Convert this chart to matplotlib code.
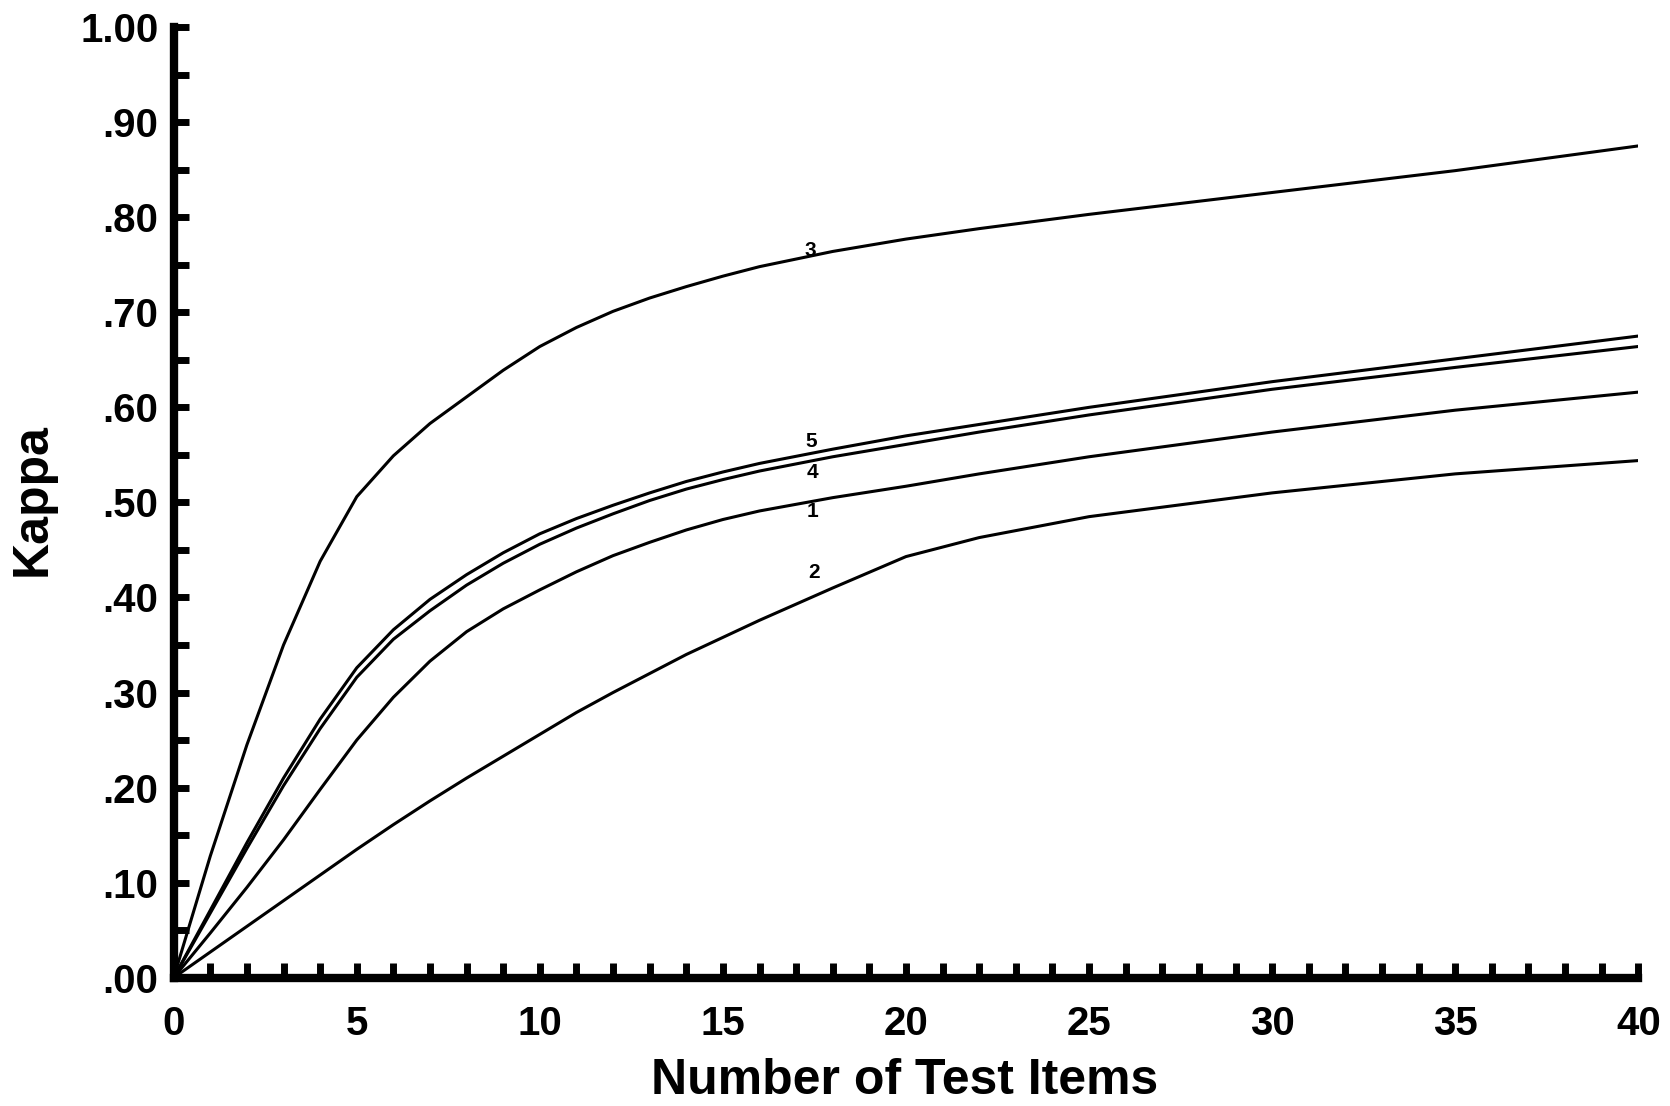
import matplotlib
matplotlib.use("Agg")
import matplotlib.pyplot as plt

# ---- data ----
test_items = [0, 1, 2, 3, 4, 5, 6, 7, 8, 9, 10, 11, 12, 13, 14, 15, 16, 18, 20, 22, 25, 30, 35, 40]

kappa_1 = [0.0, 0.047, 0.095, 0.145, 0.198, 0.250, 0.295, 0.333, 0.364, 0.388, 0.408, 0.427,
           0.444, 0.458, 0.471, 0.482, 0.491, 0.505, 0.517, 0.530, 0.548, 0.574, 0.597, 0.616]
kappa_2 = [0.0, 0.027, 0.054, 0.081, 0.108, 0.135, 0.161, 0.186, 0.210, 0.233, 0.256, 0.279,
           0.300, 0.320, 0.340, 0.358, 0.376, 0.410, 0.443, 0.463, 0.485, 0.510, 0.530, 0.544]
kappa_3 = [0.0, 0.128, 0.245, 0.350, 0.438, 0.506, 0.549, 0.583, 0.611, 0.639, 0.664, 0.684,
           0.701, 0.715, 0.727, 0.738, 0.748, 0.764, 0.777, 0.788, 0.803, 0.826, 0.849, 0.875]
kappa_4 = [0.0, 0.068, 0.136, 0.202, 0.262, 0.316, 0.356, 0.386, 0.413, 0.436, 0.456, 0.473,
           0.488, 0.502, 0.514, 0.524, 0.533, 0.548, 0.561, 0.574, 0.592, 0.619, 0.642, 0.664]
kappa_5 = [0.0, 0.071, 0.142, 0.210, 0.272, 0.326, 0.366, 0.398, 0.424, 0.447, 0.467, 0.483,
           0.497, 0.510, 0.522, 0.532, 0.541, 0.556, 0.570, 0.582, 0.600, 0.627, 0.651, 0.675]

series = [("1", kappa_1), ("2", kappa_2), ("3", kappa_3), ("4", kappa_4), ("5", kappa_5)]

# curve label anchors (x, y) in data units
label_names = ["3", "5", "4", "1", "2"]
label_x = [17.4, 17.4, 17.45, 17.45, 17.5]
label_y = [0.765, 0.564, 0.531, 0.490, 0.426]

x_major = [0, 5, 10, 15, 20, 25, 30, 35, 40]
y_labels = [".00", ".10", ".20", ".30", ".40", ".50", ".60", ".70", ".80", ".90", "1.00"]

FONT = "Liberation Sans"

fig = plt.figure(figsize=(16.70, 11.06), dpi=100)
ax = fig.add_axes([0.104, 0.116, 0.877, 0.8595])

for name, ys in series:
    ax.plot(test_items, ys, color="black", lw=2.2, solid_capstyle="round",
            solid_joinstyle="round", zorder=3)

for name, lx, ly in zip(label_names, label_x, label_y):
    ax.text(lx, ly, name, fontsize=15, fontweight="bold", family=FONT,
            ha="center", va="center", zorder=4)

ax.set_xlim(0, 40)
ax.set_ylim(0, 1.0)

for s in ["top", "right"]:
    ax.spines[s].set_visible(False)
for s in ["left", "bottom"]:
    ax.spines[s].set_linewidth(6)
    ax.spines[s].set_capstyle("projecting")

# x ticks: every integer, labels every 5
xt = list(range(0, 41))
ax.set_xticks(xt)
ax.set_xticklabels([str(v) if v in x_major else "" for v in xt])
# y ticks: every .05, labels every .10
yt = [i * 0.05 for i in range(21)]
ax.set_yticks(yt)
ax.set_yticklabels([y_labels[i // 2] if i % 2 == 0 else "" for i in range(21)])

ax.tick_params(axis="x", direction="in", length=11, width=5, pad=20, labelsize=29)
ax.tick_params(axis="y", direction="in", length=11, width=5, pad=11, labelsize=29)
for lab in ax.get_xticklabels() + ax.get_yticklabels():
    lab.set_fontweight("bold")
    lab.set_family(FONT)

ax.set_xlabel("Number of Test Items", fontsize=36, fontweight="bold", family=FONT, va="center")
ax.xaxis.set_label_coords(0.499, -0.109)
ax.set_ylabel("Kappa", fontsize=36, fontweight="bold", family=FONT, va="center")
ax.yaxis.set_label_coords(-0.096, 0.503)

fig.savefig("out.png", dpi=100, facecolor="white")
